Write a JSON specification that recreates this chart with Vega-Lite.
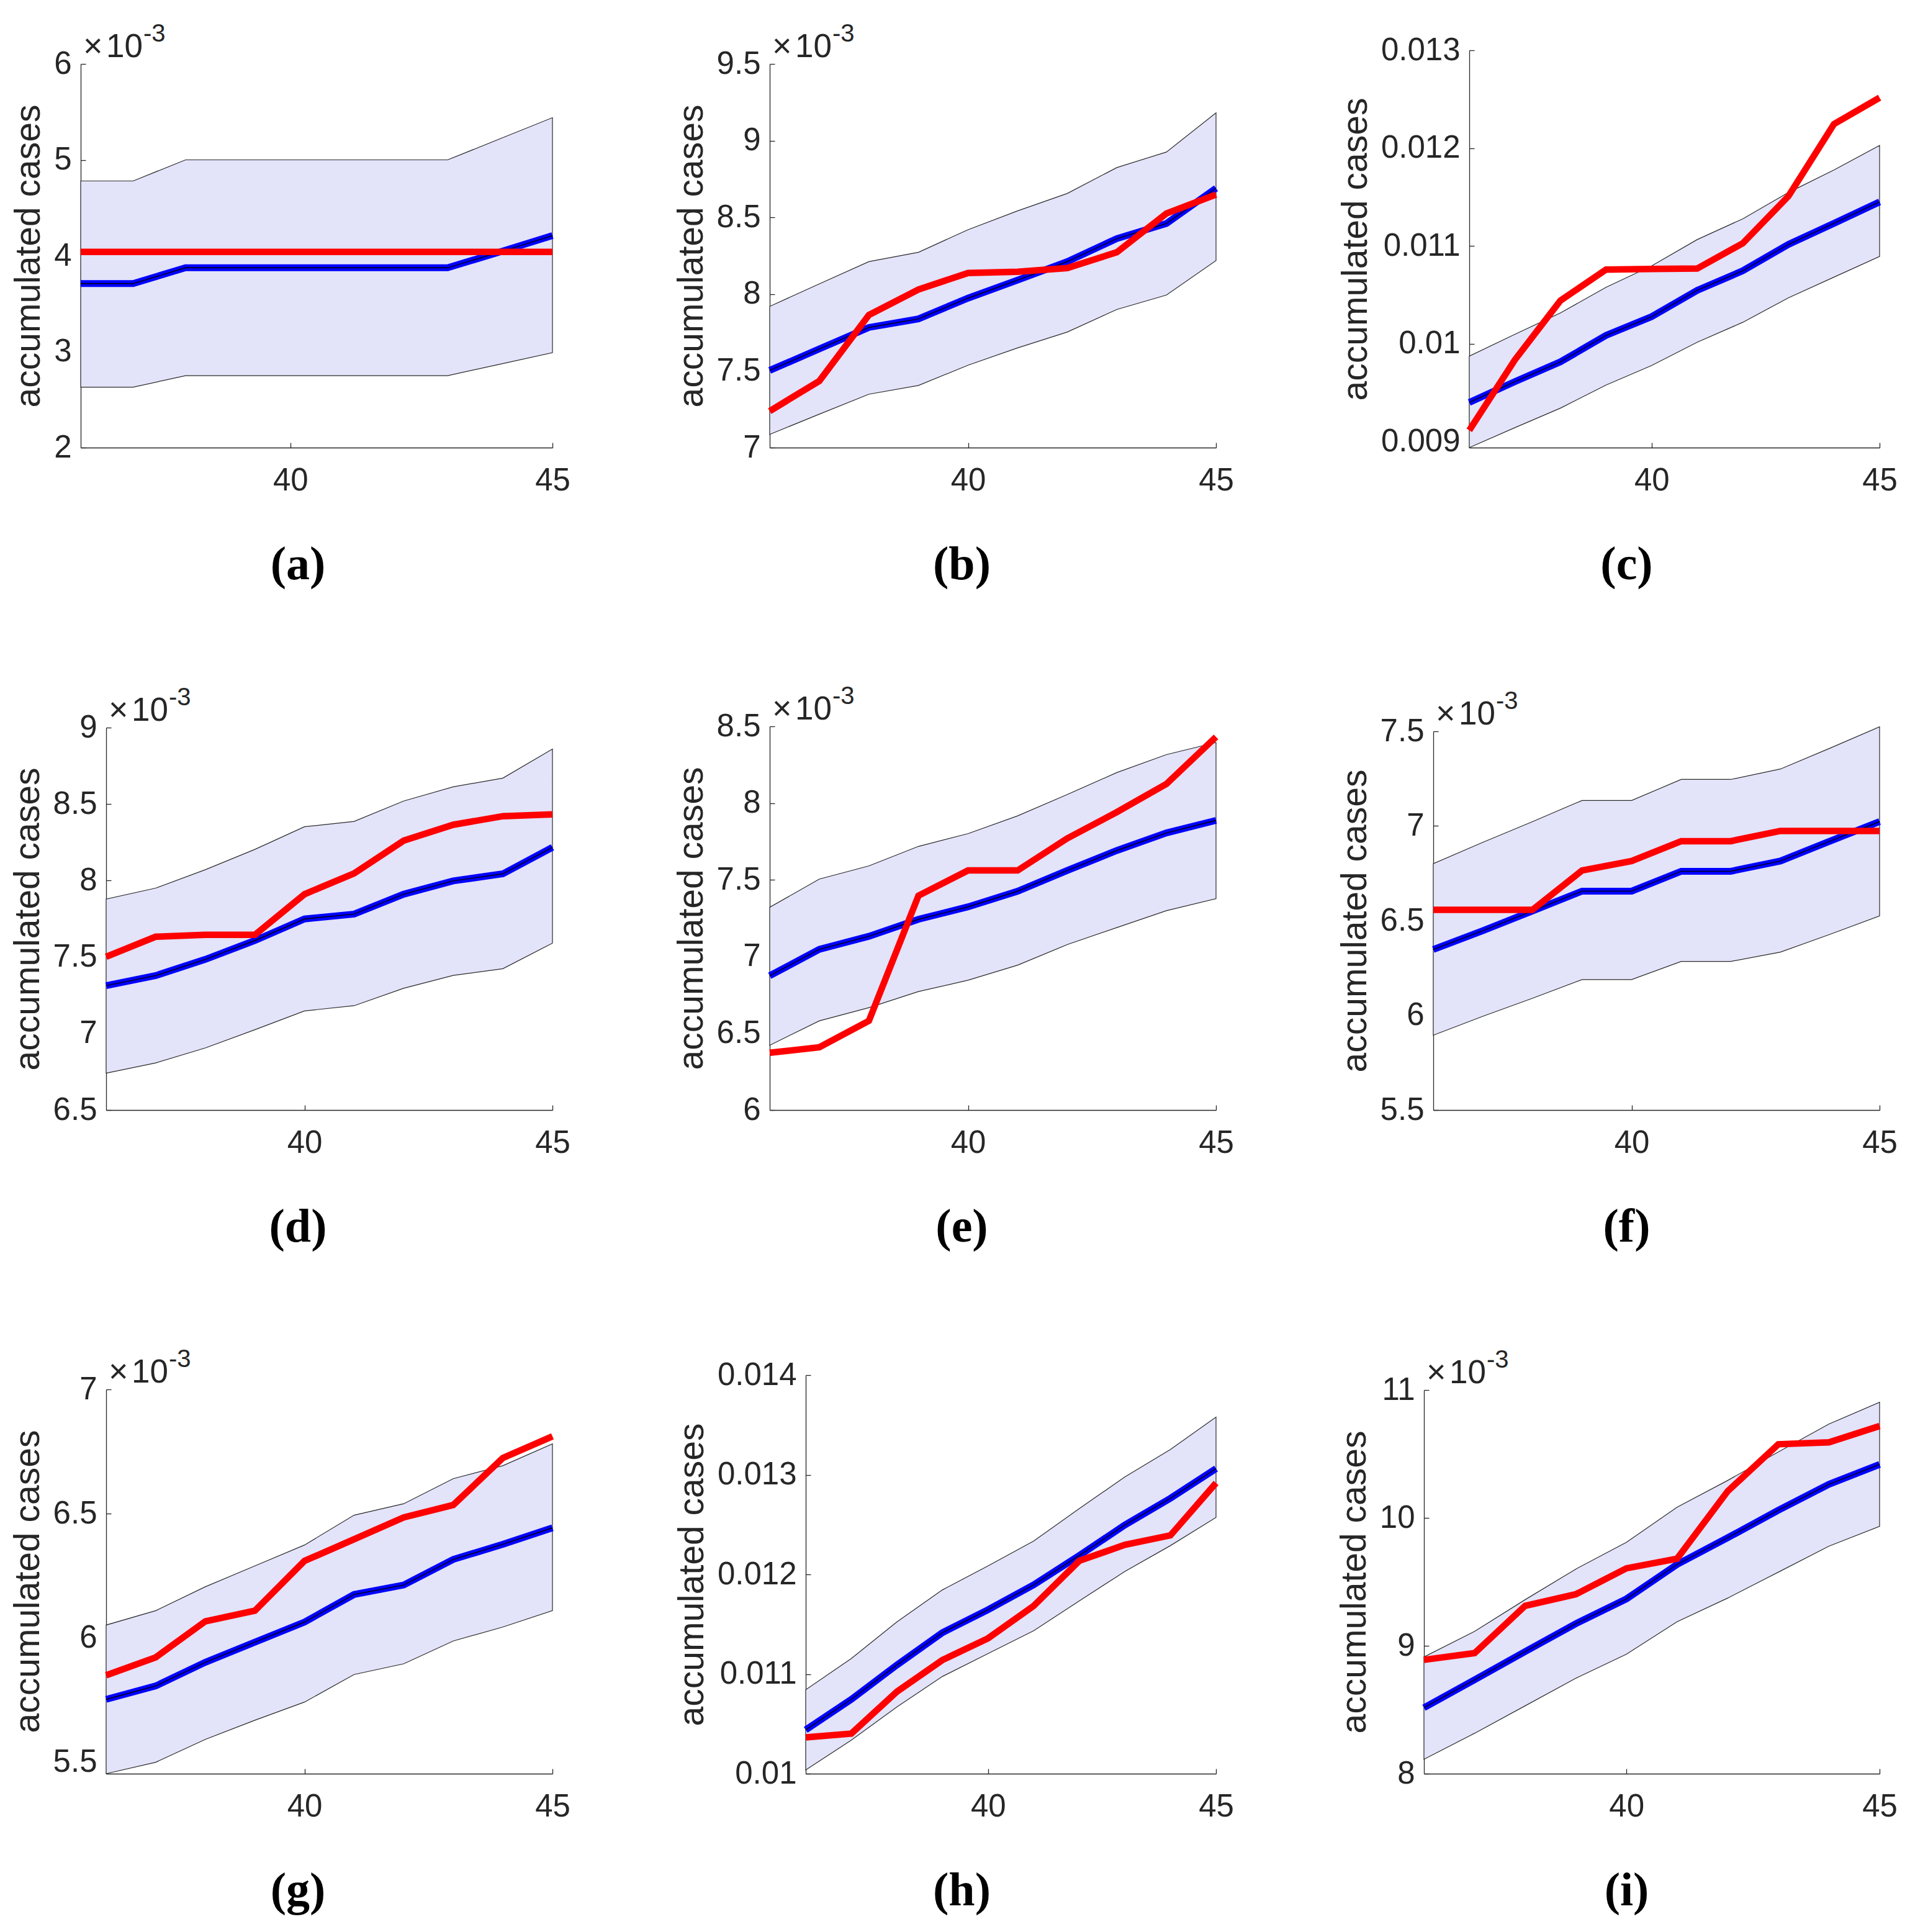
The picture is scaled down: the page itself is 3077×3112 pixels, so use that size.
{
  "$schema": "https://vega.github.io/schema/vega-lite/v6.json",
  "background": "white",
  "padding": {"left": 16, "top": 35, "right": 20, "bottom": 20},
  "config": {
    "view": {"stroke": null},
    "font": "Liberation Sans",
    "axis": {"domainColor": "#262626", "domainWidth": 1.3, "tickColor": "#262626", "tickWidth": 1.3, "tickSize": -8, "labelFont": "Liberation Sans", "labelFontSize": 51, "labelColor": "#262626", "titleFont": "Liberation Sans", "titleFontSize": 57, "titleFontWeight": "normal", "titleColor": "#262626", "grid": false, "labelFlush": false, "labelOverlap": false},
    "axisX": {"labelPadding": 36},
    "axisY": {"labelPadding": 23, "titlePadding": 11},
    "text": {"font": "Liberation Sans", "color": "#262626", "align": "left", "baseline": "alphabetic"},
    "title": {"orient": "bottom", "frame": "group", "anchor": "middle", "offset": 74, "font": "Liberation Serif", "fontWeight": "bold", "fontSize": 76, "color": "#000000"}
  },
  "datasets": {
    "d": [
      {"p":"a","day":36,"lo":0.00263,"hi":0.00478,"model":0.00371,"obs":0.00404},
      {"p":"a","day":37,"lo":0.00263,"hi":0.00478,"model":0.00371,"obs":0.00404},
      {"p":"a","day":38,"lo":0.00275,"hi":0.00500,"model":0.003875,"obs":0.00404},
      {"p":"a","day":39,"lo":0.00275,"hi":0.00500,"model":0.003875,"obs":0.00404},
      {"p":"a","day":40,"lo":0.00275,"hi":0.00500,"model":0.003875,"obs":0.00404},
      {"p":"a","day":41,"lo":0.00275,"hi":0.00500,"model":0.003875,"obs":0.00404},
      {"p":"a","day":42,"lo":0.00275,"hi":0.00500,"model":0.003875,"obs":0.00404},
      {"p":"a","day":43,"lo":0.00275,"hi":0.00500,"model":0.003875,"obs":0.00404},
      {"p":"a","day":44,"lo":0.00287,"hi":0.00522,"model":0.00404,"obs":0.00404},
      {"p":"a","day":45,"lo":0.00299,"hi":0.00544,"model":0.00421,"obs":0.00404},
      {"p":"b","day":36,"lo":0.007086,"hi":0.00792,"model":0.007503,"obs":0.007238},
      {"p":"b","day":37,"lo":0.007218,"hi":0.008067,"model":0.007643,"obs":0.007434},
      {"p":"b","day":38,"lo":0.007348,"hi":0.008212,"model":0.007783,"obs":0.007864},
      {"p":"b","day":39,"lo":0.007405,"hi":0.008273,"model":0.007839,"obs":0.00803},
      {"p":"b","day":40,"lo":0.007537,"hi":0.00842,"model":0.007974,"obs":0.008138},
      {"p":"b","day":41,"lo":0.00765,"hi":0.008543,"model":0.008092,"obs":0.008146},
      {"p":"b","day":42,"lo":0.007753,"hi":0.008656,"model":0.008212,"obs":0.00817},
      {"p":"b","day":43,"lo":0.0079,"hi":0.008825,"model":0.008362,"obs":0.008273},
      {"p":"b","day":44,"lo":0.007994,"hi":0.008926,"model":0.00846,"obs":0.008526},
      {"p":"b","day":45,"lo":0.008219,"hi":0.009181,"model":0.00869,"obs":0.008649},
      {"p":"c","day":36,"lo":0.008938,"hi":0.009873,"model":0.0094,"obs":0.009115},
      {"p":"c","day":37,"lo":0.009142,"hi":0.010096,"model":0.009612,"obs":0.009835},
      {"p":"c","day":38,"lo":0.009342,"hi":0.010315,"model":0.009815,"obs":0.010442},
      {"p":"c","day":39,"lo":0.009577,"hi":0.010577,"model":0.010085,"obs":0.010758},
      {"p":"c","day":40,"lo":0.009777,"hi":0.010796,"model":0.010277,"obs":0.010765},
      {"p":"c","day":41,"lo":0.010015,"hi":0.011065,"model":0.010546,"obs":0.010769},
      {"p":"c","day":42,"lo":0.010219,"hi":0.011277,"model":0.010746,"obs":0.011027},
      {"p":"c","day":43,"lo":0.010469,"hi":0.011546,"model":0.011015,"obs":0.011508},
      {"p":"c","day":44,"lo":0.010681,"hi":0.011777,"model":0.011231,"obs":0.012246},
      {"p":"c","day":45,"lo":0.010892,"hi":0.012027,"model":0.01145,"obs":0.012515},
      {"p":"d","day":36,"lo":0.006741,"hi":0.007879,"model":0.007313,"obs":0.007502},
      {"p":"d","day":37,"lo":0.006808,"hi":0.007951,"model":0.007379,"obs":0.007633},
      {"p":"d","day":38,"lo":0.006906,"hi":0.008071,"model":0.007485,"obs":0.007645},
      {"p":"d","day":39,"lo":0.007025,"hi":0.008204,"model":0.007608,"obs":0.007645},
      {"p":"d","day":40,"lo":0.007148,"hi":0.008352,"model":0.007749,"obs":0.007911},
      {"p":"d","day":41,"lo":0.007182,"hi":0.008387,"model":0.007781,"obs":0.008047},
      {"p":"d","day":42,"lo":0.007296,"hi":0.00852,"model":0.007911,"obs":0.008261},
      {"p":"d","day":43,"lo":0.00738,"hi":0.008613,"model":0.007998,"obs":0.008365},
      {"p":"d","day":44,"lo":0.007424,"hi":0.00867,"model":0.008044,"obs":0.008421},
      {"p":"d","day":45,"lo":0.007591,"hi":0.00886,"model":0.008217,"obs":0.008433},
      {"p":"e","day":36,"lo":0.006422,"hi":0.007321,"model":0.006875,"obs":0.006373},
      {"p":"e","day":37,"lo":0.006581,"hi":0.007505,"model":0.007047,"obs":0.006409},
      {"p":"e","day":38,"lo":0.006667,"hi":0.007591,"model":0.007132,"obs":0.006581},
      {"p":"e","day":39,"lo":0.006772,"hi":0.007718,"model":0.007243,"obs":0.007397},
      {"p":"e","day":40,"lo":0.006846,"hi":0.007801,"model":0.007324,"obs":0.007561},
      {"p":"e","day":41,"lo":0.006944,"hi":0.007917,"model":0.007426,"obs":0.007561},
      {"p":"e","day":42,"lo":0.007078,"hi":0.008056,"model":0.007561,"obs":0.00777},
      {"p":"e","day":43,"lo":0.007189,"hi":0.008199,"model":0.007691,"obs":0.007941},
      {"p":"e","day":44,"lo":0.007299,"hi":0.008316,"model":0.007806,"obs":0.008125},
      {"p":"e","day":45,"lo":0.007377,"hi":0.008395,"model":0.007887,"obs":0.008431},
      {"p":"f","day":36,"lo":0.005895,"hi":0.006801,"model":0.006348,"obs":0.006557},
      {"p":"f","day":37,"lo":0.005995,"hi":0.006914,"model":0.006447,"obs":0.006557},
      {"p":"f","day":38,"lo":0.00609,"hi":0.007023,"model":0.006551,"obs":0.006557},
      {"p":"f","day":39,"lo":0.006189,"hi":0.007135,"model":0.006656,"obs":0.006765},
      {"p":"f","day":40,"lo":0.006189,"hi":0.007135,"model":0.006656,"obs":0.006815},
      {"p":"f","day":41,"lo":0.006285,"hi":0.007246,"model":0.006761,"obs":0.00692},
      {"p":"f","day":42,"lo":0.006285,"hi":0.007246,"model":0.006761,"obs":0.00692},
      {"p":"f","day":43,"lo":0.006334,"hi":0.007301,"model":0.006815,"obs":0.006974},
      {"p":"f","day":44,"lo":0.006428,"hi":0.007411,"model":0.00692,"obs":0.006974},
      {"p":"f","day":45,"lo":0.006525,"hi":0.007524,"model":0.007023,"obs":0.006974},
      {"p":"g","day":36,"lo":0.005454,"hi":0.006052,"model":0.005753,"obs":0.00585},
      {"p":"g","day":37,"lo":0.0055,"hi":0.00611,"model":0.005807,"obs":0.005922},
      {"p":"g","day":38,"lo":0.005592,"hi":0.006206,"model":0.005902,"obs":0.006067},
      {"p":"g","day":39,"lo":0.005669,"hi":0.00629,"model":0.005983,"obs":0.00611},
      {"p":"g","day":40,"lo":0.005742,"hi":0.006374,"model":0.006064,"obs":0.00631},
      {"p":"g","day":41,"lo":0.005853,"hi":0.006494,"model":0.006175,"obs":0.006397},
      {"p":"g","day":42,"lo":0.005896,"hi":0.00654,"model":0.006213,"obs":0.006485},
      {"p":"g","day":43,"lo":0.005988,"hi":0.006641,"model":0.006316,"obs":0.006535},
      {"p":"g","day":44,"lo":0.006044,"hi":0.006693,"model":0.006377,"obs":0.006724},
      {"p":"g","day":45,"lo":0.00611,"hi":0.006781,"model":0.006443,"obs":0.006811},
      {"p":"h","day":36,"lo":0.010038,"hi":0.010842,"model":0.01044,"obs":0.010364},
      {"p":"h","day":37,"lo":0.010337,"hi":0.011156,"model":0.010746,"obs":0.010402},
      {"p":"h","day":38,"lo":0.01067,"hi":0.011523,"model":0.011091,"obs":0.010823},
      {"p":"h","day":39,"lo":0.010976,"hi":0.011845,"model":0.011416,"obs":0.011141},
      {"p":"h","day":40,"lo":0.011206,"hi":0.012086,"model":0.011646,"obs":0.011359},
      {"p":"h","day":41,"lo":0.011435,"hi":0.012335,"model":0.011895,"obs":0.011684},
      {"p":"h","day":42,"lo":0.011734,"hi":0.01266,"model":0.012189,"obs":0.012136},
      {"p":"h","day":43,"lo":0.012029,"hi":0.012978,"model":0.012496,"obs":0.012297},
      {"p":"h","day":44,"lo":0.012289,"hi":0.013254,"model":0.012764,"obs":0.012392},
      {"p":"h","day":45,"lo":0.012572,"hi":0.013579,"model":0.013062,"obs":0.012917},
      {"p":"i","day":36,"lo":0.008113,"hi":0.008913,"model":0.008516,"obs":0.00889},
      {"p":"i","day":37,"lo":0.008316,"hi":0.009113,"model":0.008734,"obs":0.008943},
      {"p":"i","day":38,"lo":0.008531,"hi":0.009361,"model":0.008955,"obs":0.009313},
      {"p":"i","day":39,"lo":0.008746,"hi":0.0096,"model":0.009173,"obs":0.009403},
      {"p":"i","day":40,"lo":0.008934,"hi":0.009809,"model":0.009367,"obs":0.009606},
      {"p":"i","day":41,"lo":0.009188,"hi":0.010084,"model":0.009636,"obs":0.009681},
      {"p":"i","day":42,"lo":0.009373,"hi":0.010293,"model":0.009845,"obs":0.010209},
      {"p":"i","day":43,"lo":0.009576,"hi":0.010516,"model":0.01006,"obs":0.010576},
      {"p":"i","day":44,"lo":0.009779,"hi":0.010734,"model":0.010263,"obs":0.010591},
      {"p":"i","day":45,"lo":0.009934,"hi":0.010904,"model":0.010418,"obs":0.010719}
    ]
  },
  "columns": 3,
  "bounds": "flush",
  "spacing": {"row": 427, "column": 350},
  "concat": [
    {
      "width": 760, "height": 640,
      "title": {"text": "(a)", "dx": -30},
      "data": {"name": "d"},
      "transform": [{"filter": "datum.p === 'a'"}],
      "encoding": {"x": {"field": "day", "type": "quantitative", "scale": {"domain": [36, 45], "range": [0, 760], "nice": false, "zero": false}, "axis": {"values": [40, 45], "title": null}}},
      "layer": [
        {"mark": {"type": "area", "fill": "#e3e3fa", "stroke": "#2b2b2b", "strokeWidth": 1.2},
         "encoding": {"y": {"field": "lo", "type": "quantitative", "scale": {"domain": [0.002, 0.006], "range": [640, 22], "nice": false, "zero": false}, "axis": {"values": [0.002, 0.003, 0.004, 0.005, 0.006], "labelExpr": "format(datum.value*1000, '~g')", "title": "accumulated cases", "titleY": 331}}, "y2": {"field": "hi"}}},
        {"mark": {"type": "line", "stroke": "#0000ff", "strokeWidth": 11}, "encoding": {"y": {"field": "model", "type": "quantitative"}}},
        {"mark": {"type": "line", "stroke": "#000000", "strokeWidth": 1.4}, "encoding": {"y": {"field": "model", "type": "quantitative"}}},
        {"mark": {"type": "line", "stroke": "#ff0000", "strokeWidth": 10.5}, "encoding": {"y": {"field": "obs", "type": "quantitative"}}},
        {"transform": [{"filter": "datum.day === 36"}], "mark": {"type": "text", "text": "×", "dx": 4, "dy": -11, "fontSize": 54}, "encoding": {"y": {"datum": 0.006, "type": "quantitative"}}},
        {"transform": [{"filter": "datum.day === 36"}], "mark": {"type": "text", "text": "10", "dx": 41, "dy": -11, "fontSize": 53}, "encoding": {"y": {"datum": 0.006, "type": "quantitative"}}},
        {"transform": [{"filter": "datum.day === 36"}], "mark": {"type": "text", "text": "-3", "dx": 101, "dy": -36, "fontSize": 40}, "encoding": {"y": {"datum": 0.006, "type": "quantitative"}}}
      ]
    },
    {
      "width": 719, "height": 640,
      "title": {"text": "(b)", "dx": -50},
      "data": {"name": "d"},
      "transform": [{"filter": "datum.p === 'b'"}],
      "encoding": {"x": {"field": "day", "type": "quantitative", "scale": {"domain": [36, 45], "range": [0, 719], "nice": false, "zero": false}, "axis": {"values": [40, 45], "title": null}}},
      "layer": [
        {"mark": {"type": "area", "fill": "#e3e3fa", "stroke": "#2b2b2b", "strokeWidth": 1.2},
         "encoding": {"y": {"field": "lo", "type": "quantitative", "scale": {"domain": [0.007, 0.0095], "range": [640, 22], "nice": false, "zero": false}, "axis": {"values": [0.007, 0.0075, 0.008, 0.0085, 0.009, 0.0095], "labelExpr": "format(datum.value*1000, '~g')", "title": "accumulated cases", "titleY": 331}}, "y2": {"field": "hi"}}},
        {"mark": {"type": "line", "stroke": "#0000ff", "strokeWidth": 11}, "encoding": {"y": {"field": "model", "type": "quantitative"}}},
        {"mark": {"type": "line", "stroke": "#000000", "strokeWidth": 1.4}, "encoding": {"y": {"field": "model", "type": "quantitative"}}},
        {"mark": {"type": "line", "stroke": "#ff0000", "strokeWidth": 10.5}, "encoding": {"y": {"field": "obs", "type": "quantitative"}}},
        {"transform": [{"filter": "datum.day === 36"}], "mark": {"type": "text", "text": "×", "dx": 4, "dy": -11, "fontSize": 54}, "encoding": {"y": {"datum": 0.0095, "type": "quantitative"}}},
        {"transform": [{"filter": "datum.day === 36"}], "mark": {"type": "text", "text": "10", "dx": 41, "dy": -11, "fontSize": 53}, "encoding": {"y": {"datum": 0.0095, "type": "quantitative"}}},
        {"transform": [{"filter": "datum.day === 36"}], "mark": {"type": "text", "text": "-3", "dx": 101, "dy": -36, "fontSize": 40}, "encoding": {"y": {"datum": 0.0095, "type": "quantitative"}}}
      ]
    },
    {
      "width": 719, "height": 640,
      "title": {"text": "(c)", "dx": -48},
      "data": {"name": "d"},
      "transform": [{"filter": "datum.p === 'c'"}],
      "encoding": {"x": {"field": "day", "type": "quantitative", "scale": {"domain": [36, 45], "range": [58, 719], "nice": false, "zero": false}, "axis": {"values": [40, 45], "title": null}}},
      "layer": [
        {"mark": {"type": "area", "fill": "#e3e3fa", "stroke": "#2b2b2b", "strokeWidth": 1.2},
         "encoding": {"y": {"field": "lo", "type": "quantitative", "scale": {"domain": [0.008938, 0.013], "range": [640, 0], "nice": false, "zero": false}, "axis": {"values": [0.009, 0.01, 0.011, 0.012, 0.013], "labelExpr": "format(datum.value, '~g')", "title": "accumulated cases", "titleY": 320, "offset": -58}}, "y2": {"field": "hi"}}},
        {"mark": {"type": "line", "stroke": "#0000ff", "strokeWidth": 11}, "encoding": {"y": {"field": "model", "type": "quantitative"}}},
        {"mark": {"type": "line", "stroke": "#000000", "strokeWidth": 1.4}, "encoding": {"y": {"field": "model", "type": "quantitative"}}},
        {"mark": {"type": "line", "stroke": "#ff0000", "strokeWidth": 10.5}, "encoding": {"y": {"field": "obs", "type": "quantitative"}}}
      ]
    },
    {
      "width": 760, "height": 640,
      "title": {"text": "(d)", "dx": -30},
      "data": {"name": "d"},
      "transform": [{"filter": "datum.p === 'd'"}],
      "encoding": {"x": {"field": "day", "type": "quantitative", "scale": {"domain": [36, 45], "range": [41, 760], "nice": false, "zero": false}, "axis": {"values": [40, 45], "title": null}}},
      "layer": [
        {"mark": {"type": "area", "fill": "#e3e3fa", "stroke": "#2b2b2b", "strokeWidth": 1.2},
         "encoding": {"y": {"field": "lo", "type": "quantitative", "scale": {"domain": [0.0065, 0.009], "range": [640, 24], "nice": false, "zero": false}, "axis": {"values": [0.0065, 0.007, 0.0075, 0.008, 0.0085, 0.009], "labelExpr": "format(datum.value*1000, '~g')", "title": "accumulated cases", "titleY": 332, "offset": -41}}, "y2": {"field": "hi"}}},
        {"mark": {"type": "line", "stroke": "#0000ff", "strokeWidth": 11}, "encoding": {"y": {"field": "model", "type": "quantitative"}}},
        {"mark": {"type": "line", "stroke": "#000000", "strokeWidth": 1.4}, "encoding": {"y": {"field": "model", "type": "quantitative"}}},
        {"mark": {"type": "line", "stroke": "#ff0000", "strokeWidth": 10.5}, "encoding": {"y": {"field": "obs", "type": "quantitative"}}},
        {"transform": [{"filter": "datum.day === 36"}], "mark": {"type": "text", "text": "×", "dx": 4, "dy": -11, "fontSize": 54}, "encoding": {"y": {"datum": 0.009, "type": "quantitative"}}},
        {"transform": [{"filter": "datum.day === 36"}], "mark": {"type": "text", "text": "10", "dx": 41, "dy": -11, "fontSize": 53}, "encoding": {"y": {"datum": 0.009, "type": "quantitative"}}},
        {"transform": [{"filter": "datum.day === 36"}], "mark": {"type": "text", "text": "-3", "dx": 101, "dy": -36, "fontSize": 40}, "encoding": {"y": {"datum": 0.009, "type": "quantitative"}}}
      ]
    },
    {
      "width": 719, "height": 640,
      "title": {"text": "(e)", "dx": -50},
      "data": {"name": "d"},
      "transform": [{"filter": "datum.p === 'e'"}],
      "encoding": {"x": {"field": "day", "type": "quantitative", "scale": {"domain": [36, 45], "range": [0, 719], "nice": false, "zero": false}, "axis": {"values": [40, 45], "title": null}}},
      "layer": [
        {"mark": {"type": "area", "fill": "#e3e3fa", "stroke": "#2b2b2b", "strokeWidth": 1.2},
         "encoding": {"y": {"field": "lo", "type": "quantitative", "scale": {"domain": [0.006, 0.0085], "range": [640, 22], "nice": false, "zero": false}, "axis": {"values": [0.006, 0.0065, 0.007, 0.0075, 0.008, 0.0085], "labelExpr": "format(datum.value*1000, '~g')", "title": "accumulated cases", "titleY": 331}}, "y2": {"field": "hi"}}},
        {"mark": {"type": "line", "stroke": "#0000ff", "strokeWidth": 11}, "encoding": {"y": {"field": "model", "type": "quantitative"}}},
        {"mark": {"type": "line", "stroke": "#000000", "strokeWidth": 1.4}, "encoding": {"y": {"field": "model", "type": "quantitative"}}},
        {"mark": {"type": "line", "stroke": "#ff0000", "strokeWidth": 10.5}, "encoding": {"y": {"field": "obs", "type": "quantitative"}}},
        {"transform": [{"filter": "datum.day === 36"}], "mark": {"type": "text", "text": "×", "dx": 4, "dy": -11, "fontSize": 54}, "encoding": {"y": {"datum": 0.0085, "type": "quantitative"}}},
        {"transform": [{"filter": "datum.day === 36"}], "mark": {"type": "text", "text": "10", "dx": 41, "dy": -11, "fontSize": 53}, "encoding": {"y": {"datum": 0.0085, "type": "quantitative"}}},
        {"transform": [{"filter": "datum.day === 36"}], "mark": {"type": "text", "text": "-3", "dx": 101, "dy": -36, "fontSize": 40}, "encoding": {"y": {"datum": 0.0085, "type": "quantitative"}}}
      ]
    },
    {
      "width": 719, "height": 640,
      "title": {"text": "(f)", "dx": -48},
      "data": {"name": "d"},
      "transform": [{"filter": "datum.p === 'f'"}],
      "encoding": {"x": {"field": "day", "type": "quantitative", "scale": {"domain": [36, 45], "range": [0, 719], "nice": false, "zero": false}, "axis": {"values": [40, 45], "title": null}}},
      "layer": [
        {"mark": {"type": "area", "fill": "#e3e3fa", "stroke": "#2b2b2b", "strokeWidth": 1.2},
         "encoding": {"y": {"field": "lo", "type": "quantitative", "scale": {"domain": [0.0055, 0.0075], "range": [640, 30], "nice": false, "zero": false}, "axis": {"values": [0.0055, 0.006, 0.0065, 0.007, 0.0075], "labelExpr": "format(datum.value*1000, '~g')", "title": "accumulated cases", "titleY": 335}}, "y2": {"field": "hi"}}},
        {"mark": {"type": "line", "stroke": "#0000ff", "strokeWidth": 11}, "encoding": {"y": {"field": "model", "type": "quantitative"}}},
        {"mark": {"type": "line", "stroke": "#000000", "strokeWidth": 1.4}, "encoding": {"y": {"field": "model", "type": "quantitative"}}},
        {"mark": {"type": "line", "stroke": "#ff0000", "strokeWidth": 10.5}, "encoding": {"y": {"field": "obs", "type": "quantitative"}}},
        {"transform": [{"filter": "datum.day === 36"}], "mark": {"type": "text", "text": "×", "dx": 4, "dy": -11, "fontSize": 54}, "encoding": {"y": {"datum": 0.0075, "type": "quantitative"}}},
        {"transform": [{"filter": "datum.day === 36"}], "mark": {"type": "text", "text": "10", "dx": 41, "dy": -11, "fontSize": 53}, "encoding": {"y": {"datum": 0.0075, "type": "quantitative"}}},
        {"transform": [{"filter": "datum.day === 36"}], "mark": {"type": "text", "text": "-3", "dx": 101, "dy": -36, "fontSize": 40}, "encoding": {"y": {"datum": 0.0075, "type": "quantitative"}}}
      ]
    },
    {
      "width": 760, "height": 642,
      "title": {"text": "(g)", "dx": -30},
      "data": {"name": "d"},
      "transform": [{"filter": "datum.p === 'g'"}],
      "encoding": {"x": {"field": "day", "type": "quantitative", "scale": {"domain": [36, 45], "range": [41, 760], "nice": false, "zero": false}, "axis": {"values": [40, 45], "title": null}}},
      "layer": [
        {"mark": {"type": "area", "fill": "#e3e3fa", "stroke": "#2b2b2b", "strokeWidth": 1.2},
         "encoding": {"y": {"field": "lo", "type": "quantitative", "scale": {"domain": [0.005454, 0.007], "range": [642, 23], "nice": false, "zero": false}, "axis": {"values": [0.0055, 0.006, 0.0065, 0.007], "labelExpr": "format(datum.value*1000, '~g')", "title": "accumulated cases", "titleY": 332, "offset": -41}}, "y2": {"field": "hi"}}},
        {"mark": {"type": "line", "stroke": "#0000ff", "strokeWidth": 11}, "encoding": {"y": {"field": "model", "type": "quantitative"}}},
        {"mark": {"type": "line", "stroke": "#000000", "strokeWidth": 1.4}, "encoding": {"y": {"field": "model", "type": "quantitative"}}},
        {"mark": {"type": "line", "stroke": "#ff0000", "strokeWidth": 10.5}, "encoding": {"y": {"field": "obs", "type": "quantitative"}}},
        {"transform": [{"filter": "datum.day === 36"}], "mark": {"type": "text", "text": "×", "dx": 4, "dy": -11, "fontSize": 54}, "encoding": {"y": {"datum": 0.007, "type": "quantitative"}}},
        {"transform": [{"filter": "datum.day === 36"}], "mark": {"type": "text", "text": "10", "dx": 41, "dy": -11, "fontSize": 53}, "encoding": {"y": {"datum": 0.007, "type": "quantitative"}}},
        {"transform": [{"filter": "datum.day === 36"}], "mark": {"type": "text", "text": "-3", "dx": 101, "dy": -36, "fontSize": 40}, "encoding": {"y": {"datum": 0.007, "type": "quantitative"}}}
      ]
    },
    {
      "width": 719, "height": 642,
      "title": {"text": "(h)", "dx": -50},
      "data": {"name": "d"},
      "transform": [{"filter": "datum.p === 'h'"}],
      "encoding": {"x": {"field": "day", "type": "quantitative", "scale": {"domain": [36, 45], "range": [58, 719], "nice": false, "zero": false}, "axis": {"values": [40, 45], "title": null}}},
      "layer": [
        {"mark": {"type": "area", "fill": "#e3e3fa", "stroke": "#2b2b2b", "strokeWidth": 1.2},
         "encoding": {"y": {"field": "lo", "type": "quantitative", "scale": {"domain": [0.01, 0.014], "range": [642, 0], "nice": false, "zero": false}, "axis": {"values": [0.01, 0.011, 0.012, 0.013, 0.014], "labelExpr": "format(datum.value, '~g')", "title": "accumulated cases", "titleY": 321, "offset": -58}}, "y2": {"field": "hi"}}},
        {"mark": {"type": "line", "stroke": "#0000ff", "strokeWidth": 11}, "encoding": {"y": {"field": "model", "type": "quantitative"}}},
        {"mark": {"type": "line", "stroke": "#000000", "strokeWidth": 1.4}, "encoding": {"y": {"field": "model", "type": "quantitative"}}},
        {"mark": {"type": "line", "stroke": "#ff0000", "strokeWidth": 10.5}, "encoding": {"y": {"field": "obs", "type": "quantitative"}}}
      ]
    },
    {
      "width": 719, "height": 642,
      "title": {"text": "(i)", "dx": -48},
      "data": {"name": "d"},
      "transform": [{"filter": "datum.p === 'i'"}],
      "encoding": {"x": {"field": "day", "type": "quantitative", "scale": {"domain": [36, 45], "range": [-15, 719], "nice": false, "zero": false}, "axis": {"values": [40, 45], "title": null}}},
      "layer": [
        {"mark": {"type": "area", "fill": "#e3e3fa", "stroke": "#2b2b2b", "strokeWidth": 1.2},
         "encoding": {"y": {"field": "lo", "type": "quantitative", "scale": {"domain": [0.008, 0.011], "range": [642, 24], "nice": false, "zero": false}, "axis": {"values": [0.008, 0.009, 0.01, 0.011], "labelExpr": "format(datum.value*1000, '~g')", "title": "accumulated cases", "titleY": 333, "offset": 15}}, "y2": {"field": "hi"}}},
        {"mark": {"type": "line", "stroke": "#0000ff", "strokeWidth": 11}, "encoding": {"y": {"field": "model", "type": "quantitative"}}},
        {"mark": {"type": "line", "stroke": "#000000", "strokeWidth": 1.4}, "encoding": {"y": {"field": "model", "type": "quantitative"}}},
        {"mark": {"type": "line", "stroke": "#ff0000", "strokeWidth": 10.5}, "encoding": {"y": {"field": "obs", "type": "quantitative"}}},
        {"transform": [{"filter": "datum.day === 36"}], "mark": {"type": "text", "text": "×", "dx": 4, "dy": -11, "fontSize": 54}, "encoding": {"y": {"datum": 0.011, "type": "quantitative"}}},
        {"transform": [{"filter": "datum.day === 36"}], "mark": {"type": "text", "text": "10", "dx": 41, "dy": -11, "fontSize": 53}, "encoding": {"y": {"datum": 0.011, "type": "quantitative"}}},
        {"transform": [{"filter": "datum.day === 36"}], "mark": {"type": "text", "text": "-3", "dx": 101, "dy": -36, "fontSize": 40}, "encoding": {"y": {"datum": 0.011, "type": "quantitative"}}}
      ]
    }
  ]
}
